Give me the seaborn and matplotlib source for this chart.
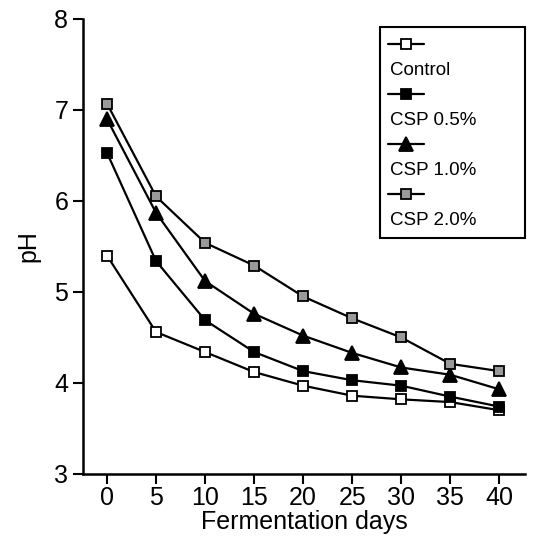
import numpy as np
import pandas as pd
import seaborn as sns
import matplotlib.pyplot as plt
from matplotlib.lines import Line2D
from matplotlib.patches import Rectangle

# data
days = [0, 5, 10, 15, 20, 25, 30, 35, 40]
control = [5.40, 4.56, 4.34, 4.12, 3.97, 3.86, 3.82, 3.79, 3.70]
csp_05 = [6.53, 5.34, 4.69, 4.34, 4.13, 4.03, 3.97, 3.85, 3.74]
csp_10 = [6.90, 5.87, 5.12, 4.76, 4.52, 4.33, 4.17, 4.09, 3.93]
csp_20 = [7.07, 6.05, 5.54, 5.29, 4.95, 4.71, 4.50, 4.21, 4.13]
groups = ['Control', 'CSP 0.5%', 'CSP 1.0%', 'CSP 2.0%']

df = pd.DataFrame({
    'day': days * 4,
    'pH': control + csp_05 + csp_10 + csp_20,
    'group': np.repeat(groups, len(days)),
})

sns.set_style('ticks')
plt.rcParams['font.family'] = ['Liberation Sans', 'DejaVu Sans']
plt.rcParams['text.color'] = 'black'
plt.rcParams['axes.labelcolor'] = 'black'
plt.rcParams['xtick.color'] = 'black'
plt.rcParams['ytick.color'] = 'black'

# marker styles per group
styles = {
    'Control': dict(marker='s', markerfacecolor='white', markersize=7),
    'CSP 0.5%': dict(marker='s', markerfacecolor='black', markersize=7),
    'CSP 1.0%': dict(marker='^', markerfacecolor='black', markersize=10),
    'CSP 2.0%': dict(marker='s', markerfacecolor='#9a9a9a', markersize=7),
}

fig = plt.figure(figsize=(5.35, 5.47), dpi=100)
ax = fig.add_axes([0.155, 0.1335, 0.826, 0.832])

for g in groups:
    sns.lineplot(data=df[df['group'] == g], x='day', y='pH', ax=ax,
                 color='black', linewidth=1.6, markeredgecolor='black',
                 markeredgewidth=1.3, **styles[g])

ax.set_xlim(-2.45, 42.6)
ax.set_ylim(3, 8)
ax.set_xticks(days)
ax.set_yticks([3, 4, 5, 6, 7, 8])
ax.tick_params(labelsize=18, width=1.5, length=7, direction='out')
ax.tick_params(axis='x', pad=2)
for s in ['top', 'right']:
    ax.spines[s].set_visible(False)
for s in ['left', 'bottom']:
    ax.spines[s].set_linewidth(1.8)
    ax.spines[s].set_color('black')

ax.set_xlabel('Fermentation days', fontsize=18, labelpad=0)
ax.set_ylabel('pH', fontsize=18, labelpad=10)

# legend box drawn by hand (figure pixels -> fraction)
W, H = 535, 547
fig.patches.append(Rectangle((380 / W, 1 - 238 / H), 145 / W, 211 / H,
                             transform=fig.transFigure, fill=False,
                             edgecolor='black', linewidth=1.5))

# legend: line handle above its label
handles = []
labels = []
blank = Line2D([], [], linestyle='none', marker=None)
for g in groups:
    handles.append(Line2D([], [], color='black', linewidth=1.6,
                          markeredgecolor='black', markeredgewidth=1.3,
                          **styles[g]))
    labels.append('')
    handles.append(blank)
    labels.append(g)

leg = fig.legend(handles, labels, loc='upper left',
                 bbox_to_anchor=(388 / W, 1 - 37 / H), fontsize=13.5,
                 handlelength=1.9, handletextpad=-1.8, labelspacing=0.42,
                 borderpad=0, frameon=False, borderaxespad=0)

fig.savefig('out.png', dpi=100)
